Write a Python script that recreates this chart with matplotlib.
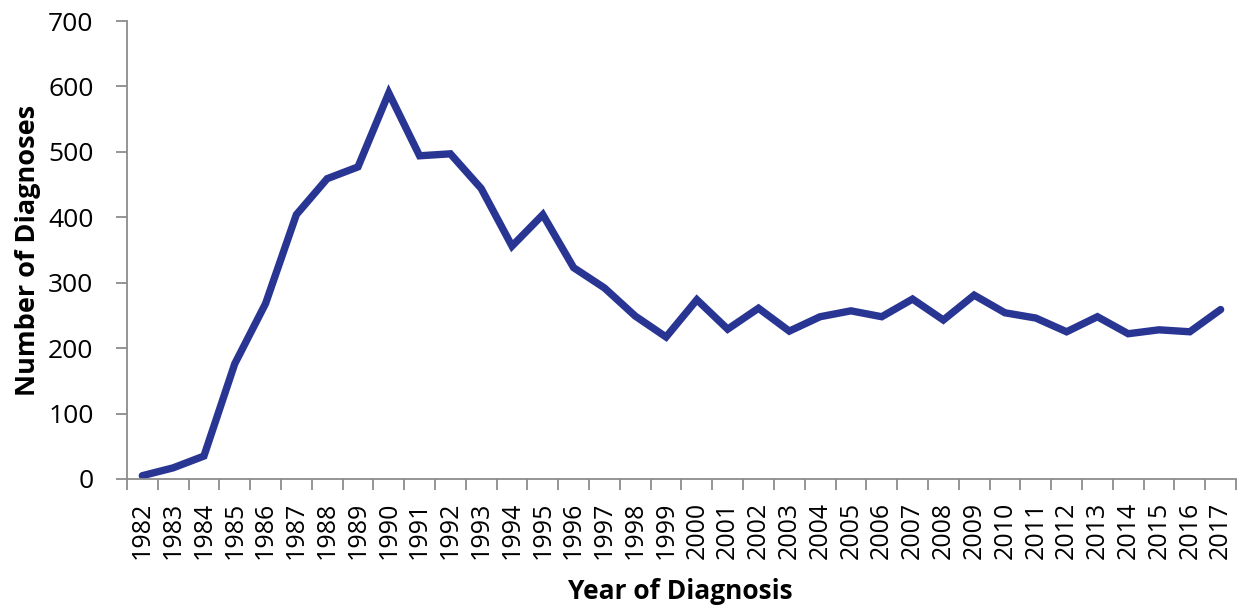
import matplotlib
matplotlib.use("Agg")
import matplotlib.pyplot as plt
import numpy as np

plt.rcParams['font.family'] = ['Open Sans', 'DejaVu Sans']

years = [str(y) for y in range(1982, 2018)]
diagnoses = [5, 17, 35, 176, 268, 404, 459, 477, 590, 494,
             497, 444, 356, 404, 323, 292, 249, 217, 274, 229,
             261, 226, 248, 257, 248, 275, 243, 281, 254, 246,
             225, 248, 222, 228, 225, 259]

fig = plt.figure(figsize=(12.44, 6.09), dpi=100)
ax = fig.add_axes([0.102, 0.2135, 0.8916, 0.752])

x = np.arange(len(years))
ax.plot(x, diagnoses, color='#283593', lw=5.3, solid_joinstyle='miter', solid_capstyle='round')

ax.set_xlim(-0.5, len(years) - 0.5)
ax.set_ylim(0, 700)
ax.set_yticks(range(0, 701, 100))
ax.set_xticks(x)
ax.set_xticklabels(years, rotation=90)
ax.set_xticks(np.arange(-0.5, len(years), 1), minor=True)

grey = '#8c8c8c'
for s in ['top', 'right']:
    ax.spines[s].set_visible(False)
for s in ['left', 'bottom']:
    ax.spines[s].set_color(grey)
    ax.spines[s].set_linewidth(1.3)

ax.tick_params(axis='x', which='major', length=0, labelsize=18, pad=16.5)
ax.tick_params(axis='x', which='minor', length=8, width=1.3, color=grey)
ax.tick_params(axis='y', length=8, width=1.3, color=grey, labelsize=19, pad=16)

ax.set_xlabel('Year of Diagnosis', fontsize=19, fontweight='bold')
ax.set_ylabel('Number of Diagnoses', fontsize=19.5, fontweight='bold')
ax.xaxis.set_label_coords((680 - 127) / 1109, (479 - 578) / 458)
ax.yaxis.set_label_coords((41 - 127) / 1109, 0.5)

fig.savefig('out.png', dpi=100)
